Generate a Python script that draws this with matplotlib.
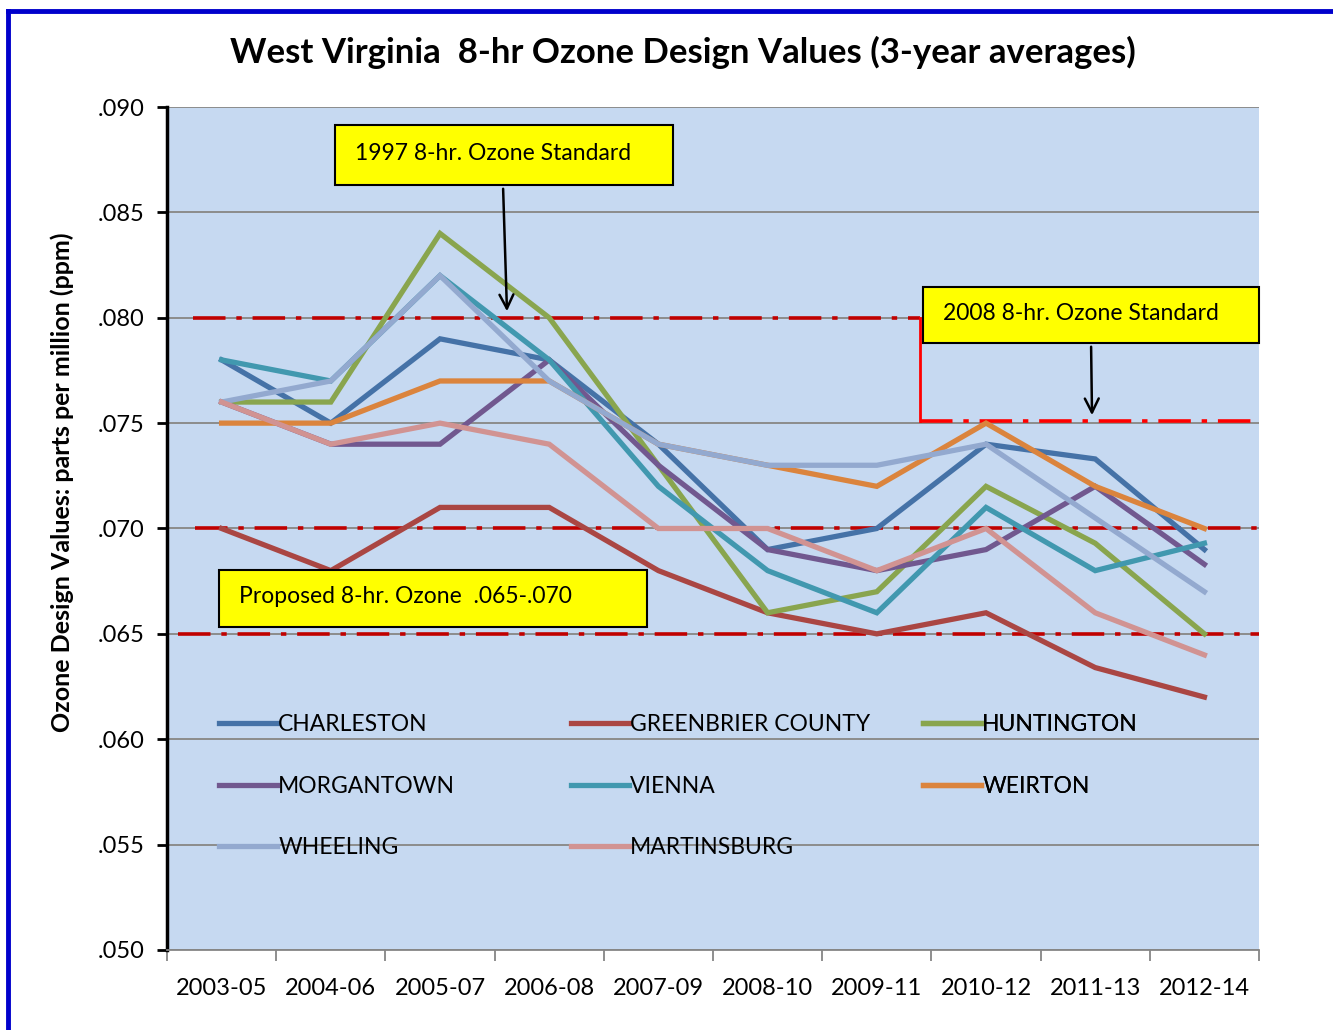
import matplotlib.pyplot as plt
from matplotlib.lines import Line2D
from matplotlib.patches import Rectangle
import numpy as np

plt.rcParams['font.family'] = ['Lato', 'DejaVu Sans']

periods = ['2003-05', '2004-06', '2005-07', '2006-08', '2007-09',
           '2008-10', '2009-11', '2010-12', '2011-13', '2012-14']

charleston = [.078, .075, .079, .078, .074, .069, .070, .074, .0733, .069]
greenbrier = [.070, .068, .071, .071, .068, .066, .065, .066, .0634, .062]
huntington = [.076, .076, .084, .080, .073, .066, .067, .072, .0693, .065]
morgantown = [.076, .074, .074, .078, .073, .069, .068, .069, .072, .0683]
vienna = [.078, .077, .082, .078, .072, .068, .066, .071, .068, .0693]
weirton = [.075, .075, .077, .077, .074, .073, .072, .075, .072, .070]
wheeling = [.076, .077, .082, .077, .074, .073, .073, .074, .0705, .067]
martinsburg = [.076, .074, .075, .074, .070, .070, .068, .070, .066, .064]

series = [
    ('CHARLESTON', charleston, '#4572A7'),
    ('GREENBRIER COUNTY', greenbrier, '#AA4643'),
    ('HUNTINGTON', huntington, '#89A54E'),
    ('MORGANTOWN', morgantown, '#71588F'),
    ('VIENNA', vienna, '#4198AF'),
    ('WEIRTON', weirton, '#DB843D'),
    ('WHEELING', wheeling, '#93A9CF'),
    ('MARTINSBURG', martinsburg, '#D19392'),
]

std_1997 = 0.080
std_2008 = 0.075
proposed = [0.070, 0.065]

fig = plt.figure(figsize=(13.33, 10.30), dpi=100)
ax = fig.add_axes([0.1253, 0.0777, 0.8192, 0.8184])
ax.set_facecolor('#C6D9F1')

x = np.arange(len(periods))
ax.set_xlim(-0.5, len(periods) - 0.5)
ax.set_ylim(0.050, 0.090)
ax.set_yticks(np.arange(0.050, 0.0901, 0.005))
ax.yaxis.set_major_formatter(lambda v, p: '.%03d' % int(round(v * 1000)))
ax.grid(axis='y', color='#8C8C8C', lw=1.4)
ax.set_axisbelow(True)

ax.set_xticks(x)
ax.set_xticklabels(periods)
ax.set_xticks(np.arange(-0.5, len(periods)), minor=True)
ax.tick_params(axis='x', which='major', length=0, labelsize=17, pad=20)
ax.tick_params(axis='x', which='minor', length=8, color='#868686', width=1.3)
ax.tick_params(axis='y', length=7, width=2, color='black', labelsize=17, pad=9)

for s in ['top', 'right']:
    ax.spines[s].set_visible(False)
ax.spines['left'].set_linewidth(2.5)
ax.spines['left'].set_color('black')
ax.spines['bottom'].set_color('#868686')
ax.spines['bottom'].set_linewidth(1.3)

# standard lines
dash = (0, (9, 3, 1.5, 3))
ax.plot([0.0238, 0.6896], [std_1997, std_1997], color='#C00000', lw=2.6,
        linestyle=dash, transform=ax.get_yaxis_transform(), zorder=2)
ax.plot([0.0256, 1.0], [proposed[0], proposed[0]], color='#C00000', lw=2.6,
        linestyle=dash, transform=ax.get_yaxis_transform(), zorder=2)
ax.plot([0.0100, 1.0], [proposed[1], proposed[1]], color='#C00000', lw=2.6,
        linestyle=dash, transform=ax.get_yaxis_transform(), zorder=2)
ax.plot([0.6896, 0.6896], [std_1997, std_2008 + 0.0001], color='#FF0000', lw=2,
        transform=ax.get_yaxis_transform(), zorder=2)
ax.plot([0.6896, 1.0], [std_2008 + 0.0001, std_2008 + 0.0001], color='#FF0000',
        lw=2.6, linestyle=dash, transform=ax.get_yaxis_transform(), zorder=2)

handles = {}
for name, vals, col in series:
    ln, = ax.plot(x, vals, color=col, lw=3.8, solid_joinstyle='miter', zorder=3)
    handles[name] = ln

# legend in three columns
cols = [['CHARLESTON', 'MORGANTOWN', 'WHEELING'],
        ['GREENBRIER COUNTY', 'VIENNA', 'MARTINSBURG'],
        ['HUNTINGTON', 'WEIRTON']]
col_x = [0.0473, 0.3696, 0.6919]
for names, cx in zip(cols, col_x):
    leg = ax.legend([handles[n] for n in names], names, loc='upper left',
                    bbox_to_anchor=(cx, 0.2796), frameon=False, fontsize=16.5,
                    handlelength=2.55, handletextpad=0.05, labelspacing=1.77,
                    borderaxespad=0, borderpad=0)
    ax.add_artist(leg)

# annotation boxes
boxes = [
    (0.1538, 0.9075, 0.3096, 0.0711, '1997 8-hr. Ozone Standard'),
    (0.6923, 0.7200, 0.3077, 0.0665, '2008 8-hr. Ozone Standard'),
    (0.0476, 0.3832, 0.3920, 0.0676, 'Proposed 8-hr. Ozone  .065-.070'),
]
for bx, by, bw, bh, txt in boxes:
    ax.add_patch(Rectangle((bx, by), bw, bh, transform=ax.transAxes,
                           facecolor='#FFFF00', edgecolor='black', lw=1.5,
                           zorder=5, clip_on=False))
    ax.text(bx + 0.018, by + bh / 2 + 0.002, txt, transform=ax.transAxes,
            fontsize=16.5, va='center', ha='left', zorder=6)

ax.annotate('', xy=(0.3114, 0.7544), xytext=(0.3077, 0.9063),
            xycoords='axes fraction',
            arrowprops=dict(arrowstyle='->', color='black', lw=1.8,
                            mutation_scale=25), zorder=6)
ax.annotate('', xy=(0.8471, 0.6311), xytext=(0.8462, 0.7189),
            xycoords='axes fraction',
            arrowprops=dict(arrowstyle='->', color='black', lw=1.8,
                            mutation_scale=25), zorder=6)

fig.text(0.5124, 0.9495, 'West Virginia  8-hr Ozone Design Values (3-year averages)',
         ha='center', va='center', fontsize=25, fontweight='bold')
fig.text(0.0465, 0.532, 'Ozone Design Values: parts per million (ppm)',
         ha='center', va='center', rotation=90, fontsize=18, fontweight='bold')

# blue frame of the chart
fig.add_artist(Line2D([0.0062, 1.0], [1 - 11 / 1030, 1 - 11 / 1030],
                      color='#0000CC', lw=3.5, transform=fig.transFigure))
fig.add_artist(Line2D([0.0062, 0.0062], [0.0, 1 - 11 / 1030],
                      color='#0000CC', lw=3.5, transform=fig.transFigure))

fig.savefig('out.png', dpi=100)
